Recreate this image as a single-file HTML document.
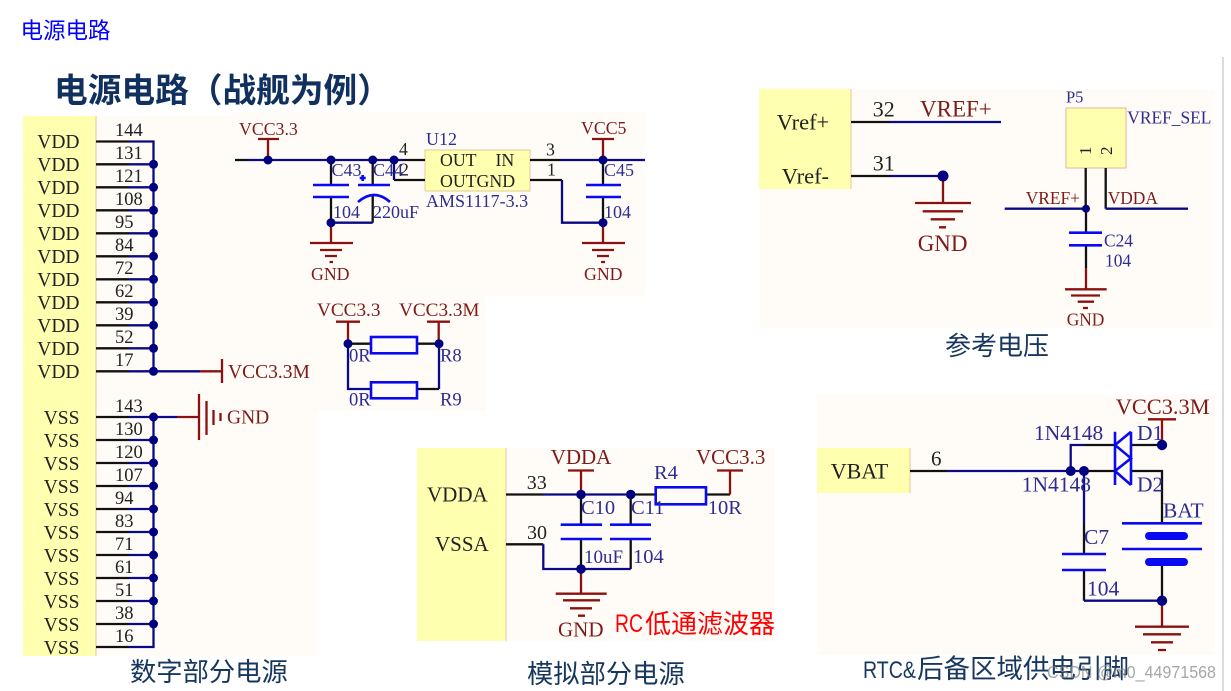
<!DOCTYPE html>
<html><head><meta charset="utf-8"><style>
html,body{margin:0;padding:0;background:#fff;width:1231px;height:691px;overflow:hidden}
svg{display:block;filter:blur(.35px)}
text{font-family:"Liberation Serif","Noto Serif CJK SC",serif;white-space:pre}
.k{fill:#222;}.r{fill:#7d1a1a}.b{fill:#2d2d8f}
.cn{font-family:"Liberation Sans","Noto Sans CJK SC",sans-serif}
.w{fill:none;stroke-width:2.3}
.wk{stroke:#111}.wb{stroke:#0a0a85}.wr{stroke:#8b1010}.wp{stroke:#0a0af0;stroke-width:2.6}
.dot{fill:#000080}
</style></head><body>
<svg width="1231" height="691" viewBox="0 0 1231 691" xmlns="http://www.w3.org/2000/svg">
<rect width="1231" height="691" fill="#fff"/>
<rect x="1222" y="57" width="2" height="634" fill="#dcdcdc"/>
<!-- backgrounds -->
<g fill="#fffcf8">
<path d="M96 116H232V112H645V296H486V411H318V656H96Z"/>
<rect x="506" y="448" width="269" height="193"/>
<path d="M760 89H1214V328H760Z"/>
<rect x="817" y="395" width="398" height="260"/>
</g>
<g fill="#ffffb0" stroke="none">
<rect x="23" y="116" width="73" height="540"/>
<rect x="417" y="448" width="89" height="193"/>
<rect x="759" y="89" width="92" height="100"/>
<rect x="817" y="448" width="93" height="45"/>
<rect x="425" y="150" width="105" height="41" stroke="#e6c79a" stroke-width="1"/>
<rect x="1066" y="108" width="60" height="60" stroke="#e6b49a" stroke-width="1"/>
</g>
<g stroke="#e8c69c" stroke-width="1"><path d="M96 116V656M506 448V641M851 89V189M910 448V493"/></g>

<!-- headings -->
<text class="cn" x="20.500" y="38.500" font-size="22.500" fill="#0000ff">电源电路</text>
<text class="cn" x="54" y="102" font-size="33.700" font-weight="700" fill="#10305f">电源电路（战舰为例）</text>
<text class="cn" x="130" y="681" font-size="26.300" fill="#17375e">数字部分电源</text>
<text class="cn" x="527" y="683" font-size="26.300" fill="#17375e">模拟部分电源</text>
<text class="cn" x="945" y="355" font-size="26" fill="#17375e">参考电压</text>
<text class="cn" x="863" y="678" font-size="24" fill="#17375e" textLength="53" lengthAdjust="spacingAndGlyphs">RTC&amp;</text>
<text class="cn" x="917" y="678" font-size="26.500" fill="#17375e">后备区域供电引脚</text>
<text class="cn" x="615" y="632" font-size="25" fill="#ff0000" textLength="28" lengthAdjust="spacingAndGlyphs">RC</text>
<text class="cn" x="645" y="633" font-size="26" fill="#ff0000">低通滤波器</text>

<!-- digital power pins -->
<path class="w wk" d="M96 141.500H129M96 164.300H129M96 187.300H129M96 210.300H129M96 233.300H129M96 256.300H129M96 279.300H129M96 302.300H129M96 325.300H129M96 348.300H129M96 371.300H129M96 417H129M96 440H129M96 463H129M96 486H129M96 509H129M96 532H129M96 555H129M96 578H129M96 601H129M96 624H129M96 647H129"/>
<path class="w wb" d="M129 141.500H153.500V371.300M129 164.300H153M129 187.300H153M129 210.300H153M129 233.300H153M129 256.300H153M129 279.300H153M129 302.300H153M129 325.300H153M129 348.300H153M129 371.300H200M129 417H177M153.500 417V647H129M129 440H153M129 463H153M129 486H153M129 509H153M129 532H153M129 555H153M129 578H153M129 601H153M129 624H153"/>
<path class="w wr" d="M200 371.300H222M222 359V383M177 417H199M199 394V440M206.500 401V435M213.500 410V425M220.500 413V421"/>
<g class="dot">
<circle cx="153.500" cy="164.300" r="4.500"/><circle cx="153.500" cy="187.300" r="4.500"/><circle cx="153.500" cy="210.300" r="4.500"/><circle cx="153.500" cy="233.300" r="4.500"/><circle cx="153.500" cy="256.300" r="4.500"/><circle cx="153.500" cy="279.300" r="4.500"/><circle cx="153.500" cy="302.300" r="4.500"/><circle cx="153.500" cy="325.300" r="4.500"/><circle cx="153.500" cy="348.300" r="4.500"/><circle cx="153.500" cy="371.300" r="4.500"/>
<circle cx="153.500" cy="417" r="4.500"/><circle cx="153.500" cy="440" r="4.500"/><circle cx="153.500" cy="463" r="4.500"/><circle cx="153.500" cy="486" r="4.500"/><circle cx="153.500" cy="509" r="4.500"/><circle cx="153.500" cy="532" r="4.500"/><circle cx="153.500" cy="555" r="4.500"/><circle cx="153.500" cy="578" r="4.500"/><circle cx="153.500" cy="601" r="4.500"/><circle cx="153.500" cy="624" r="4.500"/>
</g>
<g class="k" font-size="19.500" text-anchor="end">
<text x="79.500" y="148">VDD</text><text x="79.500" y="171">VDD</text><text x="79.500" y="194">VDD</text><text x="79.500" y="217">VDD</text><text x="79.500" y="240">VDD</text><text x="79.500" y="263">VDD</text><text x="79.500" y="286">VDD</text><text x="79.500" y="309">VDD</text><text x="79.500" y="332">VDD</text><text x="79.500" y="355">VDD</text><text x="79.500" y="378">VDD</text>
<text x="79.500" y="424">VSS</text><text x="79.500" y="447">VSS</text><text x="79.500" y="470">VSS</text><text x="79.500" y="493">VSS</text><text x="79.500" y="516">VSS</text><text x="79.500" y="539">VSS</text><text x="79.500" y="562">VSS</text><text x="79.500" y="585">VSS</text><text x="79.500" y="608">VSS</text><text x="79.500" y="631">VSS</text><text x="79.500" y="654">VSS</text>
</g>
<g class="k" font-size="18.500">
<text x="115" y="136">144</text><text x="115" y="159">131</text><text x="115" y="182">121</text><text x="115" y="205">108</text><text x="115" y="228">95</text><text x="115" y="251">84</text><text x="115" y="274">72</text><text x="115" y="297">62</text><text x="115" y="320">39</text><text x="115" y="343">52</text><text x="115" y="366">17</text>
<text x="115" y="412">143</text><text x="115" y="435">130</text><text x="115" y="458">120</text><text x="115" y="481">107</text><text x="115" y="504">94</text><text x="115" y="527">83</text><text x="115" y="550">71</text><text x="115" y="573">61</text><text x="115" y="596">51</text><text x="115" y="619">38</text><text x="115" y="642">16</text>
</g>
<text class="r" x="228" y="378" font-size="19.500">VCC3.3M</text>
<text class="r" x="227" y="423.500" font-size="19.500">GND</text>

<!-- U12 regulator -->
<path class="w wk" d="M235 160H247M404 160H425M394 180H425M530 160H560M530 180H562M331 160V185M331 197V222.700M372.700 160V185M372.700 196V222.700M603 160V185M603 197V222.700"/>
<path class="w wb" d="M247 160H404M394 160V180M560 160H645M562 180V222.700H603M331 222.700H372.700"/>
<path class="w wr" d="M258 139H279M268 139V160M592 139H614M603 139V160M331 222.700V243M310 243H353M320 250H342M325 256H337M329.500 262H333M603 222.700V243M582 243H625M592 250H614M597 256H609M601 262H605"/>
<path class="w wp" d="M313 185H349M313 197H349M358 185H390M586 185H621M586 197H621M358 202Q374 188 390 202M362.700 175V181M359.700 178H365.700"/>
<g class="dot"><circle cx="268" cy="160" r="4.500"/><circle cx="331" cy="160" r="4.500"/><circle cx="372.700" cy="160" r="4.500"/><circle cx="394" cy="160" r="4.500"/><circle cx="603" cy="160" r="4.500"/><circle cx="331" cy="222.700" r="4.500"/><circle cx="603" cy="222.700" r="4.500"/></g>
<g class="r" font-size="17.800"><text x="239" y="135">VCC3.3</text><text x="581" y="134">VCC5</text><text x="311" y="280">GND</text><text x="584" y="280">GND</text></g>
<g class="b" font-size="18"><text x="331.500" y="176">C43</text><text x="373" y="176">C44</text><text x="333" y="218">104</text><text x="373" y="218">220uF</text><text x="604" y="176">C45</text><text x="604" y="218">104</text><text x="426" y="145">U12</text><text x="426" y="207">AMS1117-3.3</text></g>
<g class="k" font-size="17.800"><text x="399" y="155">4</text><text x="400" y="175.500">2</text><text x="440" y="166">OUT</text><text x="495.500" y="166">IN</text><text x="440" y="187">OUTGND</text><text x="546" y="155.500">3</text><text x="547" y="175.500">1</text></g>

<!-- R8 R9 -->
<path class="w wk" d="M348 343.700H371M417 343.700H439M417 389H439"/>
<path class="w wb" d="M348 343.700V389H371M439 343.700V389"/>
<path class="w wr" d="M336 321.700H360M348 321.700V343.700M427 321.700H450M438.700 321.700V343.700"/>
<rect class="w wp" x="371" y="337" width="46" height="16.300"/>
<rect class="w wp" x="371" y="382.300" width="46" height="16"/>
<circle class="dot" cx="348" cy="343.700" r="4.500"/><circle class="dot" cx="439" cy="343.700" r="4.500"/>
<g class="r" font-size="19.200"><text x="317" y="316">VCC3.3</text><text x="399" y="316">VCC3.3M</text></g>
<g class="b" font-size="18.600"><text x="349" y="361.700">0R</text><text x="440" y="361.700">R8</text><text x="349" y="405.700">0R</text><text x="440" y="405.700">R9</text></g>

<!-- analog -->
<path class="w wk" d="M506 494.500H543M633 494.500H655.700M706 494.500H730M581 494.500V524.700M581 539V569M630.700 494.500V524.700M630.700 539V569M506 544.300H543.300"/>
<path class="w wb" d="M543 494.500H633M543.300 544.300V569H630.700"/>
<path class="w wr" d="M568 470.500H594M581 470.500V494.500M730 494.500V470.500M717 470.500H743M581 569V593.700M555.700 593.700H606.700M563 600.300H600M570 608.300H592M578 615.700H585"/>
<path class="w wp" d="M560.700 524.700H602M560.700 539H602M610 524.700H651M610 539H651"/>
<rect class="w wp" x="655.700" y="487.300" width="50.300" height="17"/>
<g class="dot"><circle cx="581" cy="494.500" r="4.800"/><circle cx="630.700" cy="494.500" r="4.800"/><circle cx="581" cy="569" r="4.800"/></g>
<g class="k" font-size="21"><text x="427" y="501.700">VDDA</text><text x="435" y="551">VSSA</text></g>
<g class="k" font-size="20"><text x="526.700" y="489">33</text><text x="527" y="539">30</text></g>
<g class="r" font-size="21"><text x="550.700" y="464">VDDA</text><text x="696" y="464">VCC3.3</text><text x="558" y="636.700">GND</text></g>
<g class="b" font-size="20.500"><text x="581" y="514">C10</text><text x="631" y="514">C11</text><text x="654" y="479">R4</text><text x="707.700" y="514">10R</text><text x="584" y="563" font-size="19">10uF</text><text x="633" y="563">104</text></g>

<!-- vref -->
<path class="w wk" d="M851 122H890M851 176H890M1085.700 168V208.700M1105.700 168V208.700M1086 208.700V232.700M1086 245.300V268"/>
<path class="w wb" d="M890 122H1001M890 176H943M1004.700 208.700H1086M1105.700 208.700H1188"/>
<path class="w wr" d="M943 176V203M915 203H971M922.700 211.300H963M930.700 219.300H955M939 227.300H946M1086 268V289.300M1065 289.300H1106.700M1071 295.500H1100M1077.700 301.700H1094M1083 308H1088"/>
<path class="w wp" d="M1069 232.700H1102M1069 245.300H1102"/>
<circle class="dot" cx="943" cy="176" r="5.500"/><circle class="dot" cx="1086" cy="208.700" r="4"/>
<g class="k" font-size="22.500"><text x="776.700" y="129.300">Vref+</text><text x="781.700" y="183.300">Vref-</text><text x="872.700" y="116.700" font-size="22">32</text><text x="872.700" y="170.700" font-size="22">31</text></g>
<g class="r" font-size="23"><text x="920" y="116.700">VREF+</text><text x="917.700" y="251">GND</text></g>
<g class="r" font-size="17.400"><text x="1025.700" y="204">VREF+</text><text x="1107.700" y="204">VDDA</text><text x="1066.700" y="325.700">GND</text></g>
<g class="b" font-size="17.400"><text x="1066" y="102.300" font-size="16.500">P5</text><text x="1127.300" y="123.300">VREF_SEL</text><text x="1104" y="246.700">C24</text><text x="1105" y="266.700">104</text></g>
<text class="k" font-size="17" transform="translate(1091 155) rotate(-90)">1</text>
<text class="k" font-size="17" transform="translate(1112 155) rotate(-90)">2</text>

<!-- VBAT -->
<path class="w wk" d="M910 471H947M1085 471H1115M1085 445H1115M1131 445H1162M1131 471H1162V523M1084 523V554M1084 570V600.700M1162 566V600.700"/>
<path class="w wb" d="M947 471H1085M1070.700 471V445H1085M1084 471V523M1084 600.700H1162"/>
<path class="w wr" d="M1162 445V419.300M1148 419.300H1176M1162 600.700V626.700M1135 626.700H1189M1143 634.300H1181M1151 642.300H1173M1158 650H1166"/>
<path class="w wp" d="M1062 554H1106M1062 570H1106M1122 523.300H1202M1122 549H1202" />
<path d="M1115 431.700V485M1131 431.700V485M1131 431.700L1115 445L1131 458.300L1115 471L1131 485" fill="none" stroke="#0a0af0" stroke-width="2.600"/>
<rect x="1145" y="532" width="43" height="8" rx="4" fill="#0a0af0"/>
<rect x="1145" y="558" width="43" height="8" rx="4" fill="#0a0af0"/>
<g class="dot"><circle cx="1070.700" cy="471" r="5"/><circle cx="1084" cy="471" r="5"/><circle cx="1162" cy="445" r="5.200"/><circle cx="1162" cy="600.700" r="5.200"/></g>
<text class="k" x="830.700" y="478.300" font-size="22">VBAT</text>
<text class="k" x="931" y="465.700" font-size="21">6</text>
<text class="r" x="1115.700" y="414" font-size="22.400">VCC3.3M</text>
<g class="b" font-size="21.500"><text x="1034" y="440">1N4148</text><text x="1021.700" y="491.700">1N4148</text><text x="1137" y="440">D1</text><text x="1137" y="491.700">D2</text><text x="1163" y="517.700">BAT</text><text x="1084" y="544">C7</text><text x="1087" y="595.700">104</text></g>
<text class="cn" x="1047" y="678" font-size="17.500" fill="#8a8a8a" fill-opacity=".75" textLength="169" lengthAdjust="spacingAndGlyphs">CSDN @m0_44971568</text>
</svg>
</body></html>
